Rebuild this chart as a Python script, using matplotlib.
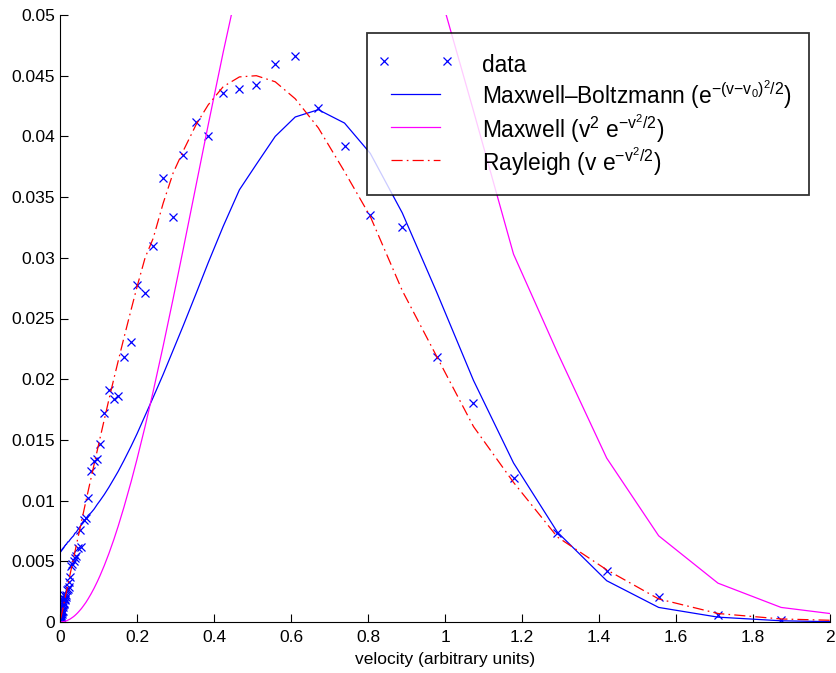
import matplotlib
matplotlib.use("Agg")
import matplotlib.pyplot as plt
from matplotlib.ticker import FuncFormatter
from matplotlib.legend_handler import HandlerLine2D

plt.rcParams['font.family'] = ['Liberation Sans', 'DejaVu Sans']
plt.rcParams['mathtext.fontset'] = 'custom'
plt.rcParams['mathtext.rm'] = 'Liberation Sans'
plt.rcParams['mathtext.it'] = 'Liberation Sans'
plt.rcParams['mathtext.default'] = 'regular'
plt.rcParams['lines.scale_dashes'] = False

velocity = [
    0.0020, 0.0022, 0.0024, 0.0027, 0.0029, 0.0032, 0.0035, 0.0038, 0.0042, 0.0046,
    0.0050, 0.0055, 0.0061, 0.0066, 0.0073, 0.0080, 0.0088, 0.0096, 0.0106, 0.0116,
    0.0127, 0.0139, 0.0153, 0.0168, 0.0184, 0.0202, 0.0221, 0.0243, 0.0266, 0.0292,
    0.0320, 0.0351, 0.0385, 0.0422, 0.0463, 0.0508, 0.0557, 0.0611, 0.0670, 0.0735,
    0.0807, 0.0885, 0.097, 0.104, 0.115, 0.127, 0.140, 0.151, 0.166, 0.185,
    0.200, 0.221, 0.242, 0.268, 0.294, 0.320, 0.354, 0.385, 0.424, 0.466,
    0.510, 0.559, 0.611, 0.671, 0.739, 0.806, 0.889, 0.978, 1.074, 1.178,
    1.292, 1.420, 1.555, 1.709, 1.873, 2.050,
]

data = [
    0.0003, 0.0002, 0.0004, 0.0003, 0.0012, 0.0004, 0.0006, 0.0005, 0.0015, 0.0008,
    0.0007, 0.0009, 0.0018, 0.0009, 0.0012, 0.0020, 0.0014, 0.0022, 0.0016, 0.0015,
    0.0018, 0.0019, 0.0021, 0.0022, 0.0026, 0.0027, 0.0029, 0.0033, 0.0037, 0.0046,
    0.0048, 0.0050, 0.0053, 0.0054, 0.0061, 0.0076, 0.0062, 0.0084, 0.0086, 0.0102,
    0.0124, 0.0133, 0.0134, 0.0147, 0.0172, 0.0191, 0.0184, 0.0186, 0.0218, 0.0231,
    0.0278, 0.0271, 0.0310, 0.0366, 0.0334, 0.0385, 0.0412, 0.0400, 0.0436, 0.0439,
    0.0442, 0.0460, 0.0466, 0.0423, 0.0392, 0.0335, 0.0325, 0.0218, 0.0180, 0.0119,
    0.0073, 0.0042, 0.0021, 0.0006, 0.0002, 0.0001,
]

maxwell_boltzmann = [
    0.0058, 0.0058, 0.0058, 0.0058, 0.0058, 0.0059, 0.0059, 0.0059, 0.0059, 0.0059,
    0.0059, 0.0060, 0.0060, 0.0060, 0.0060, 0.0061, 0.0061, 0.0061, 0.0062, 0.0062,
    0.0063, 0.0063, 0.0064, 0.0064, 0.0065, 0.0066, 0.0066, 0.0067, 0.0068, 0.0069,
    0.0070, 0.0071, 0.0073, 0.0074, 0.0076, 0.0078, 0.0080, 0.0082, 0.0085, 0.0088,
    0.0090, 0.0093, 0.0097, 0.0100, 0.0105, 0.0111, 0.0118, 0.0124, 0.0133, 0.0145,
    0.0155, 0.0170, 0.0185, 0.0204, 0.0224, 0.0244, 0.0271, 0.0296, 0.0326, 0.0356,
    0.0377, 0.0400, 0.0416, 0.0422, 0.0411, 0.0386, 0.0337, 0.0272, 0.0199, 0.0131,
    0.0074, 0.0034, 0.0012, 0.0004, 0.0001, 0.0000,
]

maxwell = [
    0.0, 0.0, 0.0, 0.0, 0.0, 0.0, 0.0, 0.0, 0.0, 0.0,
    0.00001, 0.00001, 0.00001, 0.00002, 0.00002, 0.00002, 0.00003, 0.00003, 0.00004, 0.00005,
    0.00006, 0.00007, 0.00008, 0.00010, 0.00012, 0.00015, 0.00018, 0.00021, 0.00025, 0.00031,
    0.00037, 0.00044, 0.00053, 0.00064, 0.00077, 0.00093, 0.00111, 0.00134, 0.00160, 0.00193,
    0.00232, 0.00278, 0.00333, 0.00382, 0.00465, 0.00564, 0.00681, 0.00788, 0.00945, 0.01159,
    0.01341, 0.01611, 0.01899, 0.02274, 0.02666, 0.03070, 0.03607, 0.04096, 0.04695, 0.05304,
    0.0590, 0.0640, 0.0680, 0.0705, 0.0710, 0.0690, 0.0640, 0.0528, 0.0421, 0.0303,
    0.0222, 0.0135, 0.0071, 0.0032, 0.0012, 0.0005,
]

rayleigh = [
    0.00030, 0.00033, 0.00036, 0.00041, 0.00044, 0.00048, 0.00053, 0.00057, 0.00063, 0.00069,
    0.00075, 0.00083, 0.00092, 0.00099, 0.00110, 0.00120, 0.00132, 0.00144, 0.00159, 0.00174,
    0.00190, 0.00208, 0.00230, 0.00250, 0.00276, 0.00303, 0.00331, 0.00364, 0.00398, 0.00437,
    0.00478, 0.00524, 0.00574, 0.00629, 0.00689, 0.00755, 0.00827, 0.00905, 0.00991, 0.01084,
    0.01186, 0.01297, 0.01416, 0.01515, 0.01667, 0.01832, 0.02005, 0.02148, 0.02340, 0.02576,
    0.0276, 0.0300, 0.0316, 0.0345, 0.0370, 0.0388, 0.0410, 0.0426, 0.0441, 0.0449,
    0.0450, 0.0445, 0.0431, 0.0407, 0.0371, 0.0334, 0.0273, 0.0219, 0.0161, 0.0115,
    0.0070, 0.0043, 0.0019, 0.0007, 0.00025, 0.0001,
]

labels = [
    'data',
    'Maxwell\u2013Boltzmann (e$^{{-}(v{-}v_0)^2/2}$)',
    'Maxwell (v$^2$ e$^{{-}v^2/2}$)',
    'Rayleigh (v e$^{{-}v^2/2}$)',
]
xlabel = 'velocity (arbitrary units)'
xticks = [0, 0.2, 0.4, 0.6, 0.8, 1.0, 1.2, 1.4, 1.6, 1.8, 2.0]
yticks = [0, 0.005, 0.01, 0.015, 0.02, 0.025, 0.03, 0.035, 0.04, 0.045, 0.05]

fig = plt.figure(figsize=(8.36, 6.73), dpi=100)
ax = fig.add_axes([60/836, 51/673, 770/836, 607/673])

h_data, = ax.plot(velocity, data, linestyle='none', marker='x', color='#0000ff',
                  markersize=6, markeredgewidth=0.9, label=labels[0])
ax.plot(velocity, maxwell_boltzmann, color='#0000ff', lw=0.9, label=labels[1])
ax.plot(velocity, maxwell, color='#ff00ff', lw=0.9, label=labels[2])
ax.plot(velocity, rayleigh, color='#ff0000', lw=0.9, dashes=(8, 3, 1.2, 3),
        label=labels[3])

ax.set_xlim(0, 2)
ax.set_ylim(0, 0.05)
ax.set_xticks(xticks)
ax.set_yticks(yticks)
fmt = FuncFormatter(lambda v, p: ('%g' % v))
ax.xaxis.set_major_formatter(fmt)
ax.yaxis.set_major_formatter(fmt)
ax.tick_params(direction='in', length=6, width=0.8, labelsize=12.5, colors='black')
ax.tick_params(axis='x', pad=6)
ax.spines['top'].set_visible(False)
ax.spines['right'].set_visible(False)
ax.spines['left'].set_linewidth(0.8)
ax.spines['bottom'].set_linewidth(0.8)
ax.set_xlabel(xlabel, fontsize=12.5, labelpad=5)

leg = ax.legend(loc='upper right', bbox_to_anchor=(0.973, 0.970), borderaxespad=0,
                fontsize=16.4, numpoints=2, handlelength=2.77, handletextpad=1.54,
                handleheight=1.5, labelspacing=0.02, borderpad=0.75,
                frameon=True, fancybox=False, edgecolor='black',
                handler_map={h_data: HandlerLine2D(marker_pad=0.0)})
leg.get_frame().set_linewidth(1.3)

fig.savefig('out.png', dpi=100)
